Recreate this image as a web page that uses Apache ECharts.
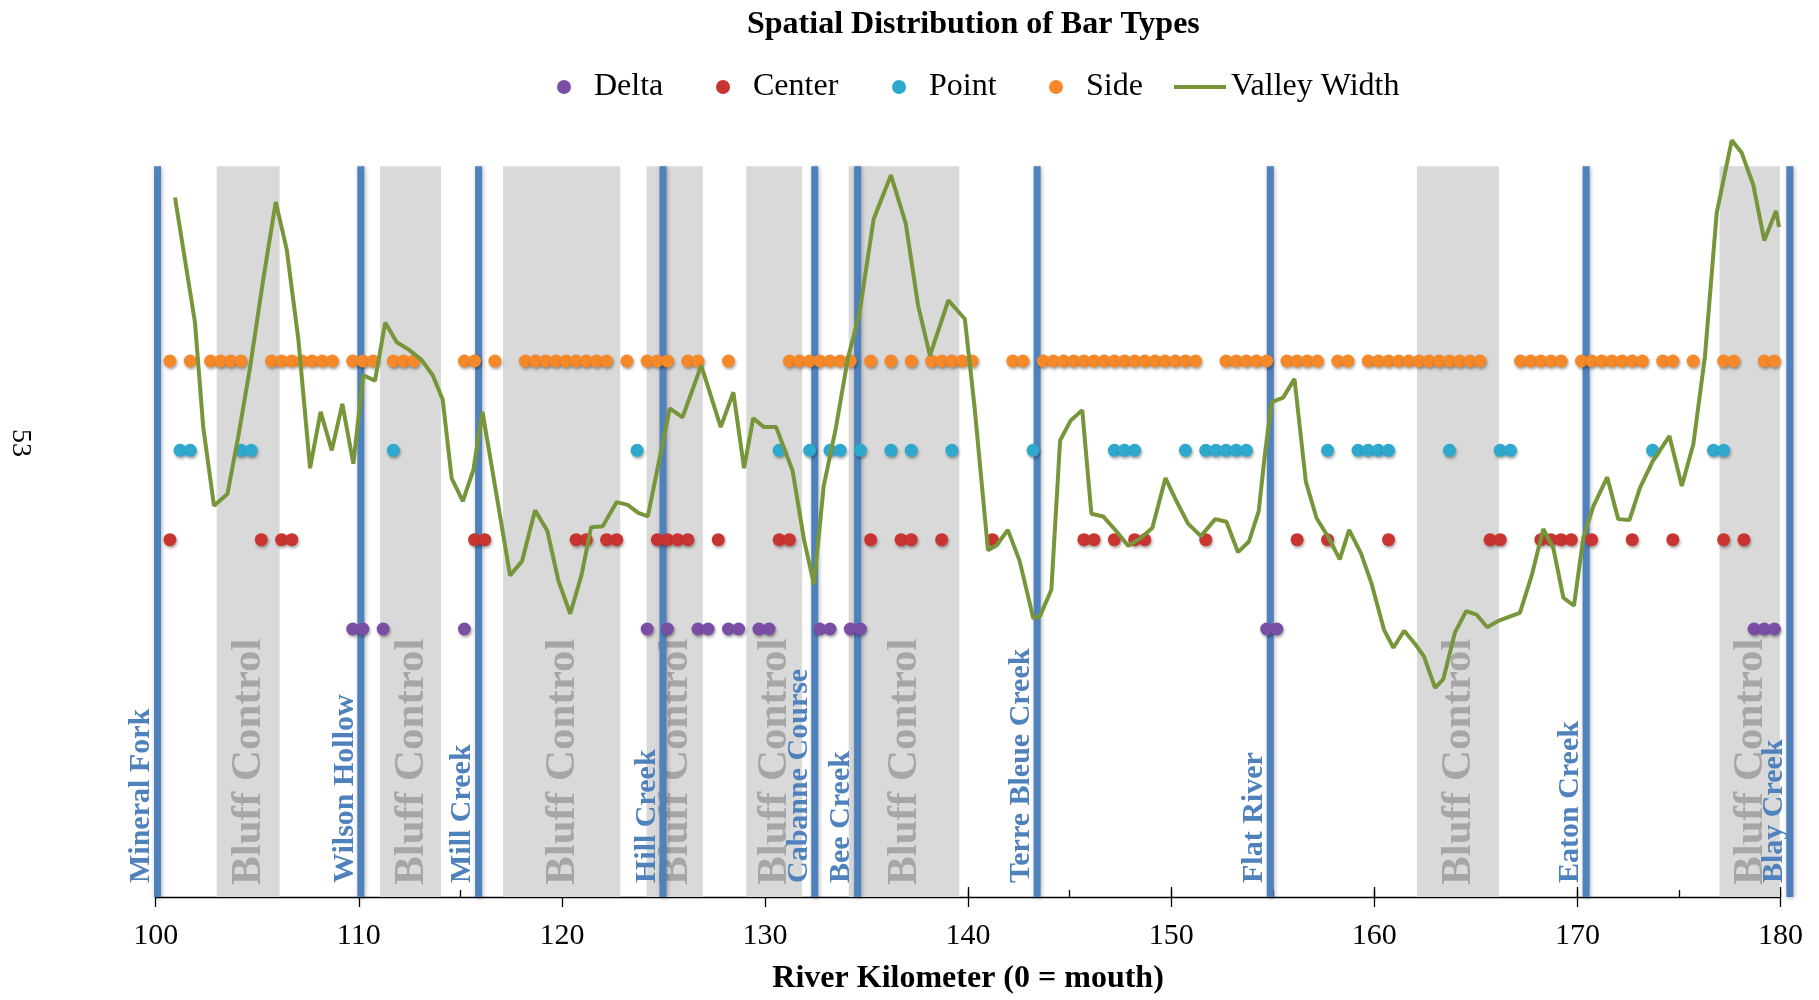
<!DOCTYPE html>
<html><head><meta charset="utf-8">
<script src="https://cdn.jsdelivr.net/npm/echarts@6/dist/echarts.min.js"></script>
<style>html,body{margin:0;padding:0;background:#fff}#c{width:1819px;height:1000px}</style>
</head><body><div id="c"></div>
<script>
// ---- data ----
const xTicks = [100, 110, 120, 130, 140, 150, 160, 170, 180];
const rowLevels = { Delta: 3, Center: 4, Point: 5, Side: 6 };

const deltaKm = [109.7,110.2,111.2,115.2,124.2,125.2,126.7,127.2,128.2,128.7,129.7,130.2,132.7,133.2,134.2,134.7,154.7,155.2,178.7,179.2,179.7];
const centerKm = [100.7,105.2,106.2,106.7,115.7,116.2,120.7,121.2,122.2,122.7,124.7,125.2,125.7,126.2,127.7,130.7,131.2,135.2,136.7,137.2,138.7,141.2,145.7,146.2,147.2,148.2,148.7,151.7,156.2,157.7,160.7,165.7,166.2,168.2,168.7,169.2,169.7,170.7,172.7,174.7,177.2,178.2];
const pointKm = [101.2,101.7,104.2,104.7,111.7,123.7,130.7,132.2,133.2,133.7,134.7,136.2,137.2,139.2,143.2,147.2,147.7,148.2,150.7,151.7,152.2,152.7,153.2,153.7,157.7,159.2,159.7,160.2,160.7,163.7,166.2,166.7,173.7,176.7,177.2];
const sideKm = [100.7,101.7,102.7,103.2,103.7,104.2,105.7,106.2,106.7,107.2,107.7,108.2,108.7,109.7,110.2,110.7,111.7,112.2,112.7,115.2,115.7,116.7,118.2,118.7,119.2,119.7,120.2,120.7,121.2,121.7,122.2,123.2,124.2,124.7,125.2,126.2,126.7,128.2,131.2,131.7,132.2,132.7,133.2,133.7,134.2,135.2,136.2,137.2,138.2,138.7,139.2,139.7,140.2,142.2,142.7,143.7,144.2,144.7,145.2,145.7,146.2,146.7,147.2,147.7,148.2,148.7,149.2,149.7,150.2,150.7,151.2,152.7,153.2,153.7,154.2,154.7,155.7,156.2,156.7,157.2,158.2,158.7,159.7,160.2,160.7,161.2,161.7,162.2,162.7,163.2,163.7,164.2,164.7,165.2,167.2,167.7,168.2,168.7,169.2,170.2,170.7,171.2,171.7,172.2,172.7,173.2,174.2,174.7,175.7,177.2,177.7,179.2,179.7];

const vwKm = [100.95,101.93,102.34,102.87,103.53,104.07,104.64,105.30,105.91,106.45,
107.02,107.30,107.60,108.12,108.67,109.19,109.73,110.22,110.80,111.30,
111.87,112.44,113.10,113.64,114.13,114.57,115.12,115.64,116.09,117.45,
118.04,118.68,119.28,119.83,120.41,120.96,121.44,122.01,122.69,123.24,
123.76,124.23,125.31,125.94,126.86,127.82,128.44,128.97,129.42,129.95,
130.55,131.36,131.92,132.41,132.89,133.48,134.09,134.64,135.35,136.20,
136.93,137.54,138.12,139.03,139.84,140.32,140.98,141.41,141.96,142.54,
143.21,143.53,144.10,144.53,145.04,145.62,146.07,146.65,147.28,147.89,
148.51,149.07,149.72,150.26,150.83,151.46,152.17,152.72,153.29,153.83,
154.31,154.62,154.95,155.51,156.07,156.63,157.16,157.73,158.30,158.76,
159.34,159.85,160.48,160.94,161.47,162.05,162.45,162.99,163.40,163.97,
164.52,165.04,165.56,166.10,167.17,167.75,168.32,168.81,169.31,169.83,
170.29,170.78,171.47,172.01,172.56,173.08,173.71,174.53,175.14,175.71,
176.28,176.86,177.60,178.09,178.66,179.20,179.78,179.93];
const vwVal = [7.83,6.44,5.26,4.38,4.51,5.16,5.92,6.92,7.78,7.25,
6.25,5.55,4.80,5.43,5.00,5.52,4.85,5.84,5.78,6.43,
6.21,6.13,6.01,5.84,5.57,4.69,4.43,4.78,5.43,3.60,
3.76,4.33,4.10,3.54,3.17,3.60,4.14,4.15,4.42,4.39,
4.30,4.26,5.47,5.37,5.95,5.26,5.65,4.80,5.36,5.26,
5.26,4.77,4.00,3.50,4.60,5.24,6.04,6.52,7.59,8.08,
7.54,6.62,6.06,6.68,6.47,5.48,3.88,3.94,4.11,3.76,
3.12,3.14,3.44,5.11,5.33,5.45,4.29,4.26,4.10,3.93,
4.02,4.13,4.69,4.43,4.18,4.04,4.23,4.20,3.86,3.98,
4.32,4.97,5.54,5.59,5.80,4.65,4.24,4.03,3.78,4.11,
3.85,3.52,2.99,2.79,2.98,2.82,2.69,2.34,2.44,2.96,
3.20,3.16,3.02,3.09,3.18,3.60,4.12,3.91,3.35,3.26,
4.02,4.37,4.70,4.23,4.22,4.58,4.88,5.16,4.60,5.07,
6.05,7.66,8.47,8.33,7.97,7.35,7.68,7.50];

const bluffStart = [103.0, 111.05, 117.1, 124.17, 129.08, 134.12, 162.1, 177.0];
const bluffEnd   = [106.1, 114.05, 122.87, 126.94, 131.83, 139.57, 166.13, 179.97];
const bluffLabel = 'Bluff Control';

const creekNames = ['Mineral Fork','Wilson Hollow','Mill Creek','Hill Creek','Cabanne Course','Bee Creek','Terre Bleue Creek','Flat River','Eaton Creek','Blay Creek'];
const creekKm    = [100.09, 110.1, 115.9, 124.98, 132.45, 134.56, 143.4, 154.88, 170.43, 180.46];

const legendNames = ['Delta', 'Center', 'Point', 'Side', 'Valley Width'];

const TOP_LEVEL = 8.18;
const SERIF = '"Liberation Serif", "Times New Roman", serif';

// ---- chart ----
const chart = echarts.init(document.getElementById('c'), null, { renderer: 'canvas' });

function dotSeries(name, km, color) {
  return {
    name, type: 'scatter', z: 4,
    symbol: 'circle', symbolSize: 13,
    data: km.map(k => [k, rowLevels[name]]),
    itemStyle: { color, shadowBlur: 3, shadowColor: 'rgba(0,0,0,0.35)', shadowOffsetX: 1, shadowOffsetY: 2, opacity: 1 }
  };
}

const legendLeft = [552, 711, 887, 1044, 1169];
const legendText = { fontFamily: SERIF, fontSize: 32, color: '#000' };
const legends = legendNames.map((n, i) => {
  const isLine = n === 'Valley Width';
  return {
    data: [isLine ? { name: n, icon: 'rect' } : { name: n, icon: 'circle' }],
    left: legendLeft[i], top: 66,
    itemWidth: isLine ? 52 : 50, itemHeight: isLine ? 4 : 14, itemGap: 0,
    textStyle: legendText
  };
});

const option = {
  animation: false,
  backgroundColor: '#ffffff',
  title: {
    text: 'Spatial Distribution of Bar Types',
    left: 742, top: 4,
    textStyle: { fontFamily: SERIF, fontWeight: 'bold', fontSize: 32, color: '#000' }
  },
  legend: legends,
  grid: { left: 155.7, right: 38.5, top: 93, bottom: 103, containLabel: false, outerBoundsMode: 'none' },
  xAxis: [
    {
      type: 'value', min: xTicks[0], max: xTicks[xTicks.length - 1], interval: 10,
      axisLine: { show: true, lineStyle: { color: '#000', width: 1.3 } },
      axisTick: { show: true, inside: false, length: 10, lineStyle: { color: '#000', width: 1.3 } },
      axisLabel: { fontFamily: SERIF, fontSize: 30, color: '#000', margin: 24 },
      splitLine: { show: false },
      name: 'River Kilometer (0 = mouth)', nameLocation: 'middle', nameGap: 66,
      nameTextStyle: { fontFamily: SERIF, fontWeight: 'bold', fontSize: 32, color: '#000' }
    },
    {
      type: 'value', min: 100, max: 180, interval: 5, position: 'bottom',
      axisLine: { show: false }, axisLabel: { show: false }, splitLine: { show: false },
      axisTick: { show: true, inside: true, length: 7, lineStyle: { color: '#000', width: 1.3 } }
    },
    {
      type: 'value', min: 100, max: 180, interval: 10, position: 'bottom',
      axisLine: { show: false }, axisLabel: { show: false }, splitLine: { show: false },
      axisTick: { show: true, inside: true, length: 10, lineStyle: { color: '#000', width: 1.3 } }
    }
  ],
  yAxis: { type: 'value', min: 0, max: 9, show: false },
  graphic: [{
    type: 'text', x: 20, y: 443, rotation: -Math.PI / 2,
    style: { text: '53', font: '28px ' + SERIF, fill: '#000', align: 'center', verticalAlign: 'middle' }
  }],
  series: [
    {
      name: 'Bluff Control', type: 'custom', z: 1, silent: true,
      data: bluffStart.map((s, i) => [s, bluffEnd[i], TOP_LEVEL]),
      encode: { x: [0, 1], y: 2 },
      renderItem: (params, api) => {
        const p0 = api.coord([api.value(0), api.value(2)]);
        const p1 = api.coord([api.value(1), 0]);
        return {
          type: 'group', children: [
            { type: 'rect', shape: { x: p0[0], y: p0[1], width: p1[0] - p0[0], height: p1[1] - p0[1] }, style: { fill: '#D9D9D9' } },
            { type: 'text', x: (p0[0] + p1[0]) / 2 + 1, y: p1[1] - 12, rotation: Math.PI / 2,
              style: { text: bluffLabel, x: 0, y: 0, align: 'left', verticalAlign: 'middle', font: 'bold 43px ' + SERIF, fill: '#A6A6A6' } }
          ]
        };
      }
    },
    {
      name: 'Creeks', type: 'custom', z: 3, silent: true, clip: false,
      data: creekKm.map((k, i) => [k, TOP_LEVEL, i]),
      encode: { x: 0, y: 1 },
      renderItem: (params, api) => {
        const k = api.value(0);
        const p0 = api.coord([k, api.value(1)]);
        const p1 = api.coord([k, 0]);
        return {
          type: 'group', children: [
            { type: 'line', shape: { x1: p0[0], y1: p0[1], x2: p1[0], y2: p1[1] },
              style: { stroke: '#4F81BD', lineWidth: 7, shadowBlur: 4, shadowColor: 'rgba(0,0,0,0.3)', shadowOffsetX: 1, shadowOffsetY: 1 } },
            { type: 'text', x: p0[0] - 1, y: p1[1] - 14, rotation: Math.PI / 2,
              style: { text: creekNames[api.value(2)], x: 0, y: 0, align: 'left', verticalAlign: 'bottom', font: 'bold 30px ' + SERIF, fill: '#4F81BD' } }
          ]
        };
      }
    },
    dotSeries('Delta', deltaKm, '#7B4EA5'),
    dotSeries('Center', centerKm, '#C93430'),
    dotSeries('Point', pointKm, '#2FA8CE'),
    dotSeries('Side', sideKm, '#F5892A'),
    {
      name: 'Valley Width', type: 'line', z: 5,
      symbol: 'none', smooth: false,
      data: vwKm.map((k, i) => [k, vwVal[i]]),
      lineStyle: { color: '#77963A', width: 4 },
      itemStyle: { color: '#77963A' }
    }
  ]
};
chart.setOption(option);
</script>
</body></html>
